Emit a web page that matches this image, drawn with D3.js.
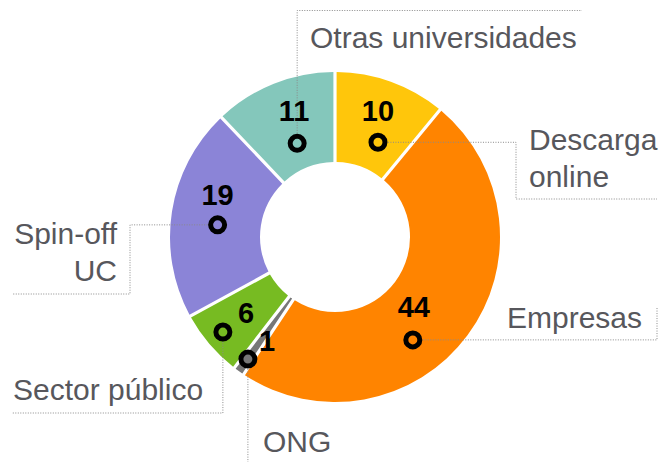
<!DOCTYPE html>
<html>
<head>
<meta charset="utf-8">
<script src="https://cdn.jsdelivr.net/npm/d3@7"></script>
<style>
  html, body { margin: 0; padding: 0; background: #fff; }
  svg { display: block; font-family: "Liberation Sans", Arial, Helvetica, sans-serif; }
</style>
</head>
<body>
<div id="chart"></div>
<script>
// ── Data ───────────────────────────────────────────────────────────────────
const categories = ["Descarga online", "Empresas", "ONG", "Sector público", "Spin-off UC", "Otras universidades"];
const values     = [10, 44, 1, 6, 19, 11];
const labelLines = [["Descarga", "online"], ["Empresas"], ["ONG"], ["Sector público"], ["Spin-off", "UC"], ["Otras universidades"]];
const colors     = ["#ffc60b", "#ff8400", "#777777", "#77bb22", "#8b84d7", "#84c7bb"];

// ── Layout ─────────────────────────────────────────────────────────────────
const width = 662, height = 462;
const cx = 335, cy = 237;
const outerR = 165, innerR = 75;

// marker placement (polar, degrees clockwise from top) and number offset
const markers = [
  { ang: 24.4,  r: 104, num: [0, -21, "middle"] },
  { ang: 142.9, r: 129, num: [1, -23, "middle"] },
  { ang: 215.5, r: 150, num: [11, -8, "start"] },
  { ang: 229.7, r: 147, num: [15, -9, "start"] },
  { ang: 275.9, r: 118, num: [0, -20, "middle"] },
  { ang: 338.0, r: 101, num: [-3, -22, "middle"] }
];

// callout elbows (after leaving the marker) and label anchor
const callouts = [
  { path: [["H", 516], ["V", 199], ["H", 657]], text: [529, 150, "start"] },
  { path: [["H", 657], ["V", 308]],             text: [507, 328, "start"] },
  { path: [["V", 462]],                         text: [263, 452, "start"] },
  { path: [["V", 413], ["H", 12]],              text: [13, 400, "start"] },
  { path: [["H", 130], ["V", 294], ["H", 12]],  text: [117, 244, "end"] },
  { path: [["V", 10.5], ["H", 582]],            text: [310, 48, "start"] }
];

const svg = d3.select("#chart").append("svg").attr("width", width).attr("height", height);

const pie = d3.pie().sort(null).value(d => d);
const arcs = pie(values);
const arc = d3.arc().innerRadius(innerR).outerRadius(outerR).padAngle(3.2 / outerR).padRadius(outerR);

const g = svg.append("g").attr("transform", `translate(${cx},${cy})`);

g.selectAll("path.slice")
  .data(arcs).join("path")
  .attr("class", "slice")
  .attr("d", arc)
  .attr("fill", (d, i) => colors[i]);

// ── Marker positions ───────────────────────────────────────────────────────
const pos = markers.map(m => {
  const a = m.ang * Math.PI / 180;
  return [cx + m.r * Math.sin(a), cy - m.r * Math.cos(a)];
});

// ── Callout lines ──────────────────────────────────────────────────────────
svg.append("g").selectAll("path")
  .data(callouts).join("path")
  .attr("d", (c, i) => {
    let x = pos[i][0], y = pos[i][1];
    let d = `M${x},${y}`;
    c.path.forEach(([cmd, v]) => {
      if (cmd === "H") x = v; else y = v;
      d += `L${x},${y}`;
    });
    return d;
  })
  .attr("fill", "none")
  .attr("stroke", "#8a8a8a")
  .attr("stroke-width", 1)
  .attr("stroke-dasharray", "1,1.5");

// ── Category labels ────────────────────────────────────────────────────────
const labels = svg.append("g").selectAll("text")
  .data(callouts).join("text")
  .attr("x", c => c.text[0])
  .attr("y", c => c.text[1])
  .attr("text-anchor", c => c.text[2])
  .attr("font-size", "30px")
  .attr("fill", "#57575c");

labels.each(function (c, i) {
  d3.select(this).selectAll("tspan")
    .data(labelLines[i]).join("tspan")
    .attr("x", c.text[0])
    .attr("dy", (t, j) => j === 0 ? 0 : 37)
    .text(t => t);
});

// ── Markers ────────────────────────────────────────────────────────────────
svg.append("g").selectAll("circle")
  .data(pos).join("circle")
  .attr("cx", p => p[0])
  .attr("cy", p => p[1])
  .attr("r", 7)
  .attr("fill", (p, i) => colors[i])
  .attr("stroke", "#000")
  .attr("stroke-width", 5);

// ── Value numbers ──────────────────────────────────────────────────────────
svg.append("g").selectAll("text")
  .data(values).join("text")
  .attr("x", (v, i) => pos[i][0] + markers[i].num[0])
  .attr("y", (v, i) => pos[i][1] + markers[i].num[1])
  .attr("text-anchor", (v, i) => markers[i].num[2])
  .attr("font-size", "29px")
  .attr("font-weight", "bold")
  .attr("fill", "#000")
  .text(v => v);
</script>
</body>
</html>
